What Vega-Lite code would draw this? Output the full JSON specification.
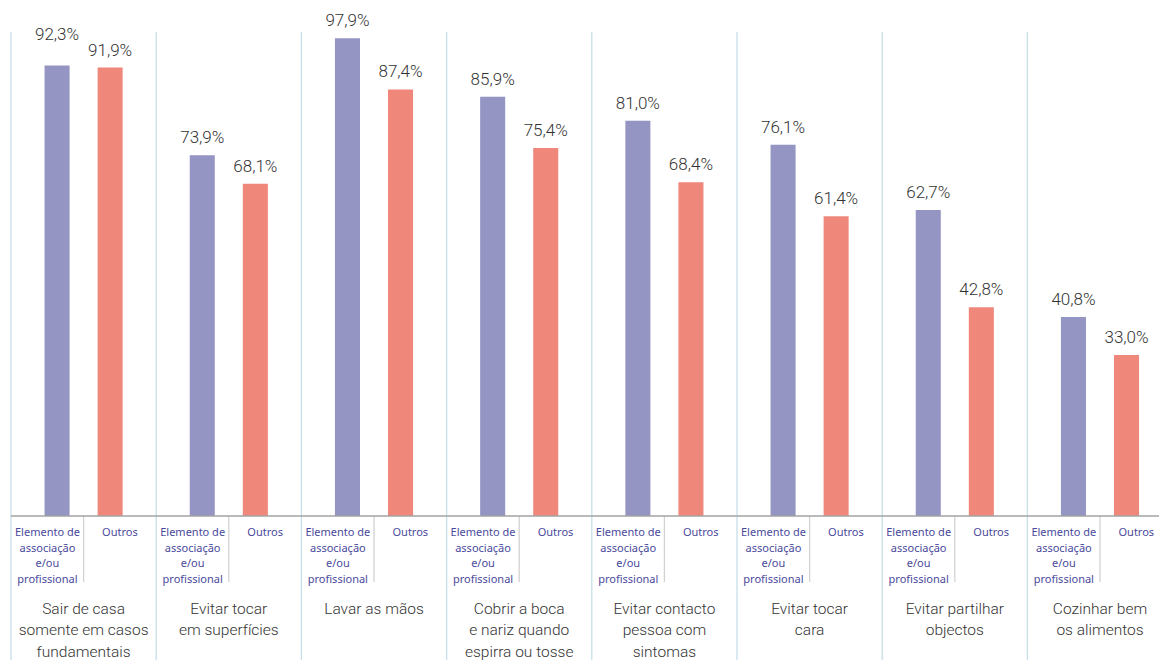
{
  "$schema": "https://vega.github.io/schema/vega-lite/v6.json",
  "width": 1148,
  "height": 488,
  "autosize": {"type": "none"},
  "padding": {"left": 11, "top": 28, "right": 3, "bottom": 144},
  "background": "white",
  "config": {
    "view": {"stroke": null},
    "locale": {"number": {"decimal": ",", "thousands": ".", "grouping": [3], "currency": ["", " €"]}},
    "axisY": {"disable": true}
  },
  "data": {
    "values": [
      {"grupo": "Sair de casa|somente em casos|fundamentais", "serie": "Elemento de|associação|e/ou|profissional", "valor": 0.923},
      {"grupo": "Sair de casa|somente em casos|fundamentais", "serie": "Outros", "valor": 0.919},
      {"grupo": "Evitar tocar|em superfícies", "serie": "Elemento de|associação|e/ou|profissional", "valor": 0.739},
      {"grupo": "Evitar tocar|em superfícies", "serie": "Outros", "valor": 0.681},
      {"grupo": "Lavar as mãos", "serie": "Elemento de|associação|e/ou|profissional", "valor": 0.979},
      {"grupo": "Lavar as mãos", "serie": "Outros", "valor": 0.874},
      {"grupo": "Cobrir a boca|e nariz quando|espirra ou tosse", "serie": "Elemento de|associação|e/ou|profissional", "valor": 0.859},
      {"grupo": "Cobrir a boca|e nariz quando|espirra ou tosse", "serie": "Outros", "valor": 0.754},
      {"grupo": "Evitar contacto|pessoa com|sintomas", "serie": "Elemento de|associação|e/ou|profissional", "valor": 0.810},
      {"grupo": "Evitar contacto|pessoa com|sintomas", "serie": "Outros", "valor": 0.684},
      {"grupo": "Evitar tocar|cara", "serie": "Elemento de|associação|e/ou|profissional", "valor": 0.761},
      {"grupo": "Evitar tocar|cara", "serie": "Outros", "valor": 0.614},
      {"grupo": "Evitar partilhar|objectos", "serie": "Elemento de|associação|e/ou|profissional", "valor": 0.627},
      {"grupo": "Evitar partilhar|objectos", "serie": "Outros", "valor": 0.428},
      {"grupo": "Cozinhar bem|os alimentos", "serie": "Elemento de|associação|e/ou|profissional", "valor": 0.408},
      {"grupo": "Cozinhar bem|os alimentos", "serie": "Outros", "valor": 0.330}
    ]
  },
  "layer": [
    {
      "transform": [{"filter": "datum.serie == 'Outros'"}],
      "mark": {"type": "rule", "color": "#c6dfe8", "strokeWidth": 1.3},
      "encoding": {
        "x": {"field": "grupo", "type": "nominal", "sort": null, "bandPosition": 0, "scale": {"range": [0, 1161.6], "paddingInner": 0, "paddingOuter": 0}},
        "y": {"datum": 0.992, "type": "quantitative", "scale": {"domain": [0, 1], "nice": false}},
        "y2": {"datum": -0.295}
      }
    },
    {
      "transform": [{"filter": "datum.serie == 'Outros'"}],
      "mark": {"type": "rule", "color": "#d2d2d2", "strokeWidth": 1.3},
      "encoding": {
        "x": {"field": "grupo", "type": "nominal", "sort": null, "bandPosition": 0.5},
        "y": {"datum": 0, "type": "quantitative", "scale": {"domain": [0, 1], "nice": false}},
        "y2": {"datum": -0.135}
      }
    },
    {
      "mark": {"type": "bar"},
      "encoding": {
        "x": {
          "field": "grupo", "type": "nominal", "sort": null,
          "axis": {
            "title": null, "domain": false, "ticks": false, "tickSize": 0, "grid": false,
            "labelExpr": "split(datum.label, '|')",
            "labelAngle": 0, "labelFont": "Roboto", "labelFontWeight": 300, "labelFontSize": 15.5, "labelColor": "#333333",
            "labelLineHeight": 21.5, "labelPadding": 85, "labelBaseline": "top", "labelAlign": "center"
          }
        },
        "xOffset": {"field": "serie", "type": "nominal", "sort": null, "scale": {"paddingInner": 0.528, "paddingOuter": 0.632}},
        "y": {"field": "valor", "type": "quantitative", "scale": {"domain": [0, 1], "nice": false}, "axis": null},
        "color": {"field": "serie", "type": "nominal", "sort": null, "scale": {"range": ["#9595c4", "#f0877b"]}, "legend": null}
      }
    },
    {
      "mark": {"type": "rule", "color": "#a3a3a3", "strokeWidth": 1.5},
      "transform": [{"filter": "datum.valor == 0.923"}],
      "encoding": {
        "y": {"datum": 0, "type": "quantitative", "scale": {"domain": [0, 1], "nice": false}}
      }
    },
    {
      "transform": [{"filter": "datum.valor != 0.923"}],
      "mark": {"type": "text", "font": "Roboto", "fontWeight": 300, "fontSize": 17, "color": "#333333", "baseline": "alphabetic", "dy": -12},
      "encoding": {
        "x": {"field": "grupo", "type": "nominal", "sort": null},
        "xOffset": {"field": "serie", "type": "nominal", "sort": null},
        "y": {"field": "valor", "type": "quantitative", "scale": {"domain": [0, 1], "nice": false}},
        "text": {"field": "valor", "type": "quantitative", "format": ".1%"}
      }
    },
    {
      "transform": [{"filter": "datum.valor == 0.923"}],
      "mark": {"type": "text", "font": "Roboto", "fontWeight": 300, "fontSize": 17, "color": "#333333", "baseline": "alphabetic", "dy": -26},
      "encoding": {
        "x": {"field": "grupo", "type": "nominal", "sort": null},
        "xOffset": {"field": "serie", "type": "nominal", "sort": null},
        "y": {"field": "valor", "type": "quantitative", "scale": {"domain": [0, 1], "nice": false}},
        "text": {"field": "valor", "type": "quantitative", "format": ".1%"}
      }
    },
    {
      "transform": [{"filter": "datum.serie != 'Outros'"}],
      "mark": {"type": "text", "font": "Noto Sans", "fontSize": 11, "color": "#4a4a9c", "baseline": "top", "align": "center", "lineBreak": "|", "lineHeight": 15.5, "dy": 11},
      "encoding": {
        "x": {"field": "grupo", "type": "nominal", "sort": null, "bandPosition": 0.251},
        "y": {"datum": 0, "type": "quantitative", "scale": {"domain": [0, 1], "nice": false}},
        "text": {"field": "serie", "type": "nominal"}
      }
    },
    {
      "transform": [{"filter": "datum.serie == 'Outros'"}],
      "mark": {"type": "text", "font": "Noto Sans", "fontSize": 11, "color": "#4a4a9c", "baseline": "top", "align": "center", "lineBreak": "|", "lineHeight": 15.5, "dy": 11},
      "encoding": {
        "x": {"field": "grupo", "type": "nominal", "sort": null, "bandPosition": 0.75},
        "y": {"datum": 0, "type": "quantitative", "scale": {"domain": [0, 1], "nice": false}},
        "text": {"field": "serie", "type": "nominal"}
      }
    }
  ]
}
